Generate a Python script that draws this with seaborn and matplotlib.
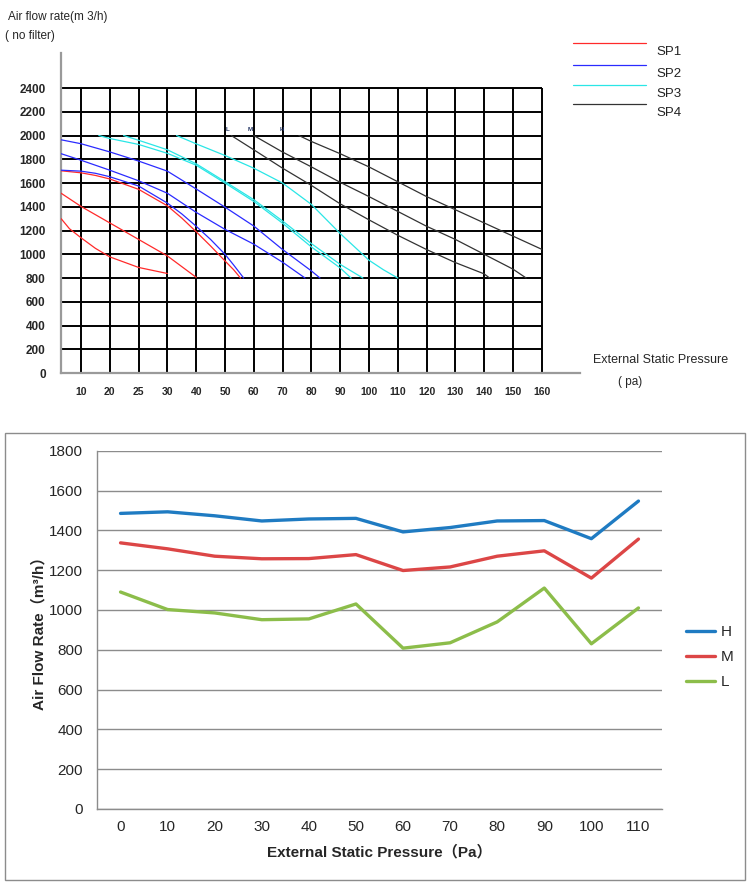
import numpy as np
import pandas as pd
import seaborn as sns
import matplotlib
matplotlib.use("Agg")
import matplotlib.pyplot as plt
from matplotlib.lines import Line2D
from matplotlib.patches import Rectangle

# ---- top chart: fan curves (pressure in Pa, flow in m3/h) ----
grid_ticks = [10, 20, 25, 30, 40, 50, 60, 70, 80, 90, 100, 110, 120, 130, 140, 150, 160]
flow_ticks = [0, 200, 400, 600, 800, 1000, 1200, 1400, 1600, 1800, 2000, 2200, 2400]

sp1_a_p = [3.1, 10, 15, 20, 25, 30, 35, 40, 45, 50, 53, 55.4]
sp1_a_q = [1703, 1686, 1664, 1634, 1547, 1408, 1305, 1190, 1070, 944, 870, 800]
sp1_b_p = [3.1, 10, 20, 25, 30, 40]
sp1_b_q = [1514, 1403, 1264, 1125, 986, 806]
sp1_c_p = [3.1, 6, 10, 15, 20, 25, 30]
sp1_c_q = [1300, 1215, 1139, 1050, 978, 889, 838]

sp2_a_p = [3.1, 10, 20, 25, 30, 40, 50, 60, 70, 80, 83]
sp2_a_q = [1964, 1931, 1862, 1785, 1700, 1550, 1397, 1238, 1040, 860, 800]
sp2_b_p = [3.1, 10, 20, 25, 30, 40, 50, 60, 70, 77.8]
sp2_b_q = [1847, 1792, 1708, 1619, 1514, 1353, 1210, 1085, 933, 800]
sp2_c_p = [3.1, 10, 15, 20, 25, 30, 35, 40, 45, 50, 53, 56.5]
sp2_c_q = [1708, 1700, 1682, 1653, 1575, 1431, 1340, 1236, 1125, 1000, 910, 800]

sp3_a_p = [16.2, 20, 25, 30, 40, 50, 60, 70, 80, 90, 93.8]
sp3_a_q = [2000, 1975, 1925, 1850, 1750, 1600, 1445, 1262, 1062, 885, 800]
sp3_b_p = [22.4, 25, 30, 40, 50, 60, 70, 80, 90, 97.9]
sp3_b_q = [2000, 1960, 1880, 1762, 1612, 1460, 1280, 1090, 915, 800]
sp3_c_p = [33.2, 40, 50, 60, 70, 80, 90, 100, 105, 110]
sp3_c_q = [2000, 1930, 1832, 1725, 1600, 1420, 1175, 950, 870, 800]

sp4_l_p = [52.2, 60, 70, 80, 90, 100, 110, 120, 130, 140, 141.9]
sp4_l_q = [2000, 1880, 1725, 1580, 1425, 1290, 1160, 1040, 930, 835, 800]
sp4_m_p = [60, 70, 80, 90, 100, 110, 120, 130, 140, 150, 154.6]
sp4_m_q = [2000, 1861, 1736, 1606, 1486, 1361, 1236, 1125, 1000, 875, 800]
sp4_h_p = [75.7, 80, 90, 100, 110, 120, 130, 140, 150, 160]
sp4_h_q = [2000, 1950, 1847, 1736, 1611, 1486, 1375, 1264, 1153, 1042]

speed_tags = ["L", "M", "H"]
speed_tag_p = [50.8, 58.6, 69.8]

sp_names = ["SP1", "SP2", "SP3", "SP4"]
sp_colors = ["#ff2a2a", "#2b2bff", "#2ae6e6", "#333333"]

# ---- bottom chart: measured flow ----
pressure = [0, 10, 20, 30, 40, 50, 60, 70, 80, 90, 100, 110]
h_flow = [1485, 1493, 1473, 1447, 1457, 1460, 1392, 1414, 1447, 1449, 1358, 1547]
m_flow = [1337, 1307, 1270, 1257, 1258, 1278, 1198, 1216, 1270, 1297, 1160, 1356]
l_flow = [1090, 1002, 985, 951, 955, 1030, 808, 835, 940, 1110, 830, 1010]
speed_colors = ["#1f7bc2", "#dc4646", "#8cbd4a"]

sns.set_style("white")
plt.rcParams["font.family"] = ["Liberation Sans", "Noto Sans CJK SC", "DejaVu Sans"]

W, H = 753, 885
fig = plt.figure(figsize=(W / 100, H / 100), dpi=100)


def fbox(x0, y0, x1, y1):
    # pixel box -> figure fraction [left, bottom, width, height]
    return [x0 / W, 1 - y1 / H, (x1 - x0) / W, (y1 - y0) / H]


# piecewise axis: ticks are equally spaced even though values are not
scale_p = [0] + grid_ticks + [170, 180]
scale_k = list(range(-1, len(grid_ticks) + 2))


def fwd(x):
    return np.interp(x, scale_p, scale_k)


def inv(k):
    return np.interp(k, scale_k, scale_p)


ax1 = fig.add_axes(fbox(61, 53, 580, 373))
ax1.set_xscale("function", functions=(fwd, inv))
ax1.set_xlim(3.06, 173.3)
ax1.set_ylim(0, 2695)

ax1.hlines(flow_ticks[1:], 3.06, 160, color="black", lw=1.4, zorder=1)
ax1.vlines(grid_ticks, 0, 2400, color="black", lw=1.4, zorder=1)

curves = [
    ("SP1", sp1_a_p, sp1_a_q), ("SP1", sp1_b_p, sp1_b_q), ("SP1", sp1_c_p, sp1_c_q),
    ("SP2", sp2_a_p, sp2_a_q), ("SP2", sp2_b_p, sp2_b_q), ("SP2", sp2_c_p, sp2_c_q),
    ("SP3", sp3_a_p, sp3_a_q), ("SP3", sp3_b_p, sp3_b_q), ("SP3", sp3_c_p, sp3_c_q),
    ("SP4", sp4_l_p, sp4_l_q), ("SP4", sp4_m_p, sp4_m_q), ("SP4", sp4_h_p, sp4_h_q),
]
rows = []
for i, (name, ps, qs) in enumerate(curves):
    for p, q in zip(ps, qs):
        rows.append({"curve": i, "sp": name, "p": p, "q": q})
fan = pd.DataFrame(rows)
sns.lineplot(data=fan, x="p", y="q", hue="sp", units="curve", estimator=None,
             sort=False, palette=dict(zip(sp_names, sp_colors)), lw=0.9,
             legend=False, ax=ax1, zorder=3)

for tag, p in zip(speed_tags, speed_tag_p):
    ax1.text(p, 2030, tag, fontsize=4.5, fontweight="bold", color="#1f3060",
             ha="center", va="bottom")

for s in ["top", "right"]:
    ax1.spines[s].set_visible(False)
for s in ["left", "bottom"]:
    ax1.spines[s].set_color("#9a9a9a")
    ax1.spines[s].set_linewidth(1.6)
ax1.set_xticks(grid_ticks)
ax1.set_xticklabels([str(t) for t in grid_ticks], fontsize=7.5, fontweight="bold")
ax1.set_yticks(flow_ticks)
ax1.set_yticklabels([str(t) for t in flow_ticks], fontsize=8.5, fontweight="bold")
ax1.tick_params(axis="x", length=0, pad=10)
ax1.tick_params(axis="y", length=0, pad=11)
ax1.set_xlabel("")
ax1.set_ylabel("")

fig.text(8 / W, 1 - 17 / H, "Air flow rate(m 3/h)", fontsize=8.5, va="center")
fig.text(5 / W, 1 - 36 / H, "( no filter)", fontsize=8.5, va="center")
fig.text(593 / W, 1 - 360 / H, "External Static Pressure", fontsize=9, va="center")
fig.text(618 / W, 1 - 382 / H, "( pa)", fontsize=8.5, va="center")

leg_y = [43, 65, 85, 104]
for name, col, y in zip(sp_names, sp_colors, leg_y):
    fig.add_artist(Line2D([573 / W, 646 / W], [1 - y / H, 1 - y / H], color=col, lw=0.9))
    fig.text(656 / W, 1 - (y + 9) / H, name, fontsize=9.5, va="center", color="#222222")

# ---- bottom chart ----
fig.add_artist(Rectangle((5 / W, 1 - 880 / H), 740 / W, 447 / H, transform=fig.transFigure,
                         fill=False, ec="#8c8c8c", lw=1.0))

ax2 = fig.add_axes(fbox(97, 450.7, 662, 809))
flow_df = pd.DataFrame({
    "pressure": pressure * 3,
    "flow": h_flow + m_flow + l_flow,
    "speed": ["H"] * 12 + ["M"] * 12 + ["L"] * 12,
})
sns.lineplot(data=flow_df, x="pressure", y="flow", hue="speed",
             palette=dict(zip(["H", "M", "L"], speed_colors)), lw=2.4, ax=ax2)
ax2.set_xlim(-5, 115)
ax2.set_ylim(0, 1800)
ax2.set_yticks(range(0, 1801, 200))
ax2.set_xticks(pressure)
ax2.set_xticks(np.arange(-5, 116, 10), minor=True)
ax2.tick_params(axis="y", labelsize=11, length=4, color="#8c8c8c", pad=6)
ax2.tick_params(axis="x", which="major", labelsize=11, length=0, pad=8)
ax2.tick_params(axis="x", which="minor", length=5, color="#8c8c8c")
ax2.yaxis.grid(True, color="#8c8c8c", lw=1)
ax2.xaxis.grid(False)
ax2.set_axisbelow(True)
for s in ["top", "right"]:
    ax2.spines[s].set_visible(False)
for s in ["left", "bottom"]:
    ax2.spines[s].set_color("#8c8c8c")
    ax2.spines[s].set_linewidth(1)
ax2.set_xlabel("External Static Pressure（Pa）", fontsize=11, fontweight="bold", labelpad=8)
ax2.set_ylabel("Air Flow Rate（m³/h）", fontsize=11, fontweight="bold", labelpad=2)
ax2.legend(loc="center left", bbox_to_anchor=(672 / W, 1 - 657 / H),
           bbox_transform=fig.transFigure, frameon=False, fontsize=11,
           handlelength=1.9, labelspacing=0.72, handletextpad=0.4)

fig.savefig("out.png", dpi=100)
